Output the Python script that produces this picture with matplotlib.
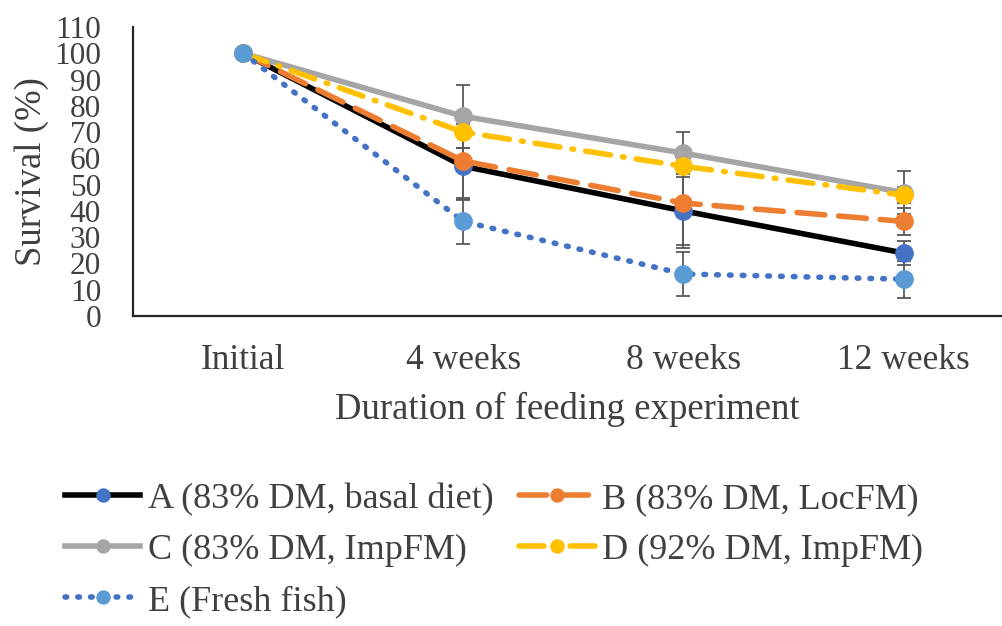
import matplotlib
matplotlib.use('Agg')
import matplotlib.pyplot as plt

plt.rcParams['font.family'] = ['Liberation Serif', 'DejaVu Serif']

categories = ['Initial', '4 weeks', '8 weeks', '12 weeks']

labels = ['A (83% DM, basal diet)', 'B (83% DM, LocFM)', 'C (83% DM, ImpFM)',
          'D (92% DM, ImpFM)', 'E (Fresh fish)']
surv_a = [100, 57, 40, 24]
surv_b = [100, 59, 43, 36]
surv_c = [100, 76, 62, 47]
surv_d = [100, 70, 57, 46]
surv_e = [100, 36, 16, 14]

err_a = [0, 13, 14, 4.5]
err_b = [0, 14, 16, 5]
err_c = [0, 12, 8, 8]
err_d = [0, 6, 4, 3]
err_e = [0, 8.5, 8.5, 7]

line_colors = ['black', '#ED7D31', '#A5A5A5', '#FFC000', '#4472C4']
marker_colors = ['#4472C4', '#ED7D31', '#A5A5A5', '#FFC000', '#5B9BD5']
styles = ['-', (0, (5, 2.5)), '-', (0, (4.5, 2.2, 0.3, 2.2)), (0, (0.3, 2.0))]

fig = plt.figure(figsize=(10.03, 6.26), dpi=100)
ax = fig.add_axes([0.1326, 0.4952, 0.867, 0.4617])

x = list(range(len(categories)))
series = [surv_a, surv_b, surv_c, surv_d, surv_e]
errors = [err_a, err_b, err_c, err_d, err_e]
handles = []
for i, (vals, errs) in enumerate(zip(series, errors)):
    ax.errorbar(x, vals, yerr=errs, fmt='none', ecolor='#595959',
                elinewidth=1.3, capsize=5, capthick=1.3, zorder=2)
    h, = ax.plot(x, vals, color=line_colors[i], linestyle=styles[i],
                 linewidth=4, marker='o', markersize=12.5,
                 markerfacecolor=marker_colors[i], markeredgecolor=marker_colors[i],
                 dash_capstyle='round', label=labels[i], zorder=3)
    handles.append(h)

ax.set_xlim(-0.5, 3.45)
ax.set_ylim(0, 110)
ax.set_yticks(range(0, 111, 10))
ax.set_xticks(x)
ax.set_xticklabels(categories)

for s in ['top', 'right']:
    ax.spines[s].set_visible(False)
for s in ['left', 'bottom']:
    ax.spines[s].set_color('#262626')
    ax.spines[s].set_linewidth(1.6)

ax.tick_params(axis='both', length=0, colors='#404040')
ax.tick_params(axis='y', pad=23, labelsize=22.5)
ax.tick_params(axis='x', pad=20, labelsize=25.5)

ax.set_ylabel('Survival (%)', fontsize=26.5, color='#404040', labelpad=4)
ax.set_xlabel('Duration of feeding experiment', fontsize=26.5, color='#404040', labelpad=11)

# row-wise legend order: A B / C D / E
order = [0, 2, 4, 1, 3]
leg = fig.legend(handles=[handles[k] for k in order], loc='upper left',
                 bbox_to_anchor=(0.05, 0.252), ncol=2, frameon=False,
                 fontsize=26, handlelength=2.1, handletextpad=0.2,
                 columnspacing=0.7, labelspacing=0.49, borderaxespad=0,
                 markerscale=0.75)
for t in leg.get_texts():
    t.set_color('#404040')

plt.savefig('out.png', dpi=100)
plt.close()
